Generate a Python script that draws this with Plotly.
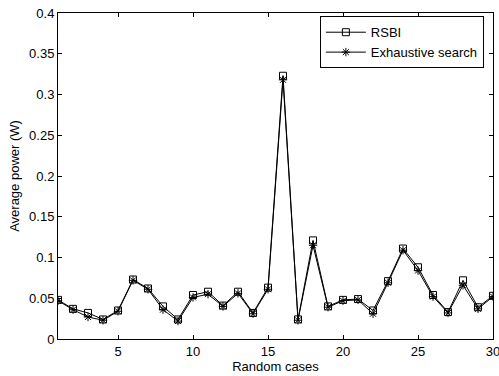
import plotly.graph_objects as go

cases = list(range(1, 31))
rsbi = [0.048, 0.037, 0.032, 0.024, 0.035, 0.073, 0.062, 0.040, 0.024, 0.054,
        0.058, 0.041, 0.058, 0.032, 0.063, 0.323, 0.024, 0.121, 0.040, 0.048,
        0.049, 0.035, 0.071, 0.111, 0.088, 0.054, 0.033, 0.072, 0.039, 0.053]
exhaustive = [0.047, 0.036, 0.027, 0.023, 0.034, 0.072, 0.061, 0.036, 0.022, 0.051,
              0.055, 0.040, 0.056, 0.031, 0.061, 0.318, 0.023, 0.115, 0.039, 0.047,
              0.048, 0.031, 0.069, 0.109, 0.084, 0.052, 0.032, 0.066, 0.037, 0.052]
x_ticks = [5, 10, 15, 20, 25, 30]
y_ticks = [0, 0.05, 0.1, 0.15, 0.2, 0.25, 0.3, 0.35, 0.4]
y_ticklabels = ["0", "0.05", "0.1", "0.15", "0.2", "0.25", "0.3", "0.35", "0.4"]

FONT = "Liberation Sans, Arial, sans-serif"

fig = go.Figure()
fig.add_trace(go.Scatter(
    x=cases, y=rsbi, name="RSBI", mode="lines+markers",
    line=dict(color="black", width=1),
    marker=dict(symbol="square-open", size=7, color="black", line=dict(width=1, color="black")),
))
fig.add_trace(go.Scatter(
    x=cases, y=exhaustive, name="Exhaustive search", mode="lines+markers",
    line=dict(color="black", width=1),
    marker=dict(symbol="asterisk-open", size=7, color="black", line=dict(width=1, color="black")),
))

axis_common = dict(
    showline=True, linecolor="black", linewidth=1, mirror="ticks",
    ticks="inside", ticklen=4, tickcolor="black", tickwidth=1,
    showgrid=False, zeroline=False, ticklabeloverflow="allow",
    tickfont=dict(family=FONT, size=13, color="black"),
)

fig.update_xaxes(
    range=[1, 30], tickvals=x_ticks,
    title=dict(text="Random cases", font=dict(family=FONT, size=13, color="black"), standoff=2),
    **axis_common,
)
fig.update_yaxes(
    range=[0, 0.4], tickvals=y_ticks, ticktext=y_ticklabels,
    title=dict(text="Average power (W)", font=dict(family=FONT, size=13, color="black"), standoff=6),
    **axis_common,
)

fig.update_layout(
    width=499, height=376,
    margin=dict(l=58, r=6, t=13, b=37, autoexpand=False),
    paper_bgcolor="white", plot_bgcolor="white",
    font=dict(family=FONT, size=13, color="black"),
    showlegend=True,
    legend=dict(
        x=0.602, y=0.99, xanchor="left", yanchor="top",
        bgcolor="white", bordercolor="black", borderwidth=1,
        font=dict(family=FONT, size=13, color="black"),
        itemwidth=40, tracegroupgap=0,
    ),
)

fig.write_html("out.html", config={"displayModeBar": False},
               post_script="document.body.style.margin='0';")
